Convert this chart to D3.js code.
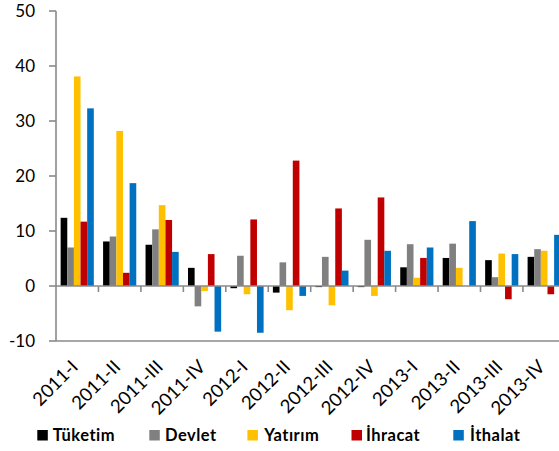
<!DOCTYPE html>
<html><head><meta charset="utf-8">
<script src="https://cdn.jsdelivr.net/npm/d3@7"></script>
<style>body{margin:0;background:#fff}svg{display:block}text{font-family:Lato,"Open Sans",sans-serif}</style>
</head><body>
<svg id="c" width="559" height="451"></svg>
<script>
const categories = ["2011-I","2011-II","2011-III","2011-IV","2012-I","2012-II","2012-III","2012-IV","2013-I","2013-II","2013-III","2013-IV"];
const seriesNames = ["Tüketim","Devlet","Yatırım","İhracat","İthalat"];
const seriesColors = ["#000000","#808080","#FFC000","#C00000","#0070C0"];
const tuketim = [12.4, 8.1, 7.5, 3.3, -0.4, -1.2, -0.2, -0.2, 3.4, 5.1, 4.7, 5.3];
const devlet  = [7.0, 9.0, 10.3, -3.7, 5.5, 4.3, 5.3, 8.4, 7.6, 7.7, 1.6, 6.7];
const yatirim = [38.1, 28.2, 14.7, -0.9, -1.5, -4.4, -3.5, -1.8, 1.5, 3.3, 5.9, 6.4];
const ihracat = [11.7, 2.4, 12.0, 5.8, 12.1, 22.8, 14.1, 16.1, 5.1, 0, -2.4, -1.5];
const ithalat = [32.3, 18.7, 6.2, -8.3, -8.5, -1.8, 2.8, 6.4, 7.0, 11.8, 5.8, 9.3];
const yTicks = [-10, 0, 10, 20, 30, 40, 50];

const seriesValues = [tuketim, devlet, yatirim, ihracat, ithalat];
const svg = d3.select("#c");
const axisColor = "#8a8a8a";

const x0 = d3.scaleBand().domain(categories).range([56, 565.4]).padding(0);
const x1 = d3.scaleBand().domain(seriesNames).range([0, x0.bandwidth()]).paddingInner(0).paddingOuter(0.7);
const y = d3.scaleLinear().domain([-10, 50]).range([341, 11]);

// bars
const g = svg.append("g");
categories.forEach((c, i) => {
  seriesNames.forEach((s, j) => {
    const v = seriesValues[j][i];
    if (v === 0) return;
    g.append("rect")
      .attr("x", x0(c) + x1(s))
      .attr("width", x1.bandwidth())
      .attr("y", y(Math.max(0, v)))
      .attr("height", Math.abs(y(v) - y(0)))
      .attr("fill", seriesColors[j]);
  });
});

// y axis
svg.append("line").attr("x1", 56).attr("x2", 56).attr("y1", y(50)).attr("y2", y(-10))
  .attr("stroke", axisColor).attr("stroke-width", 1.6);
yTicks.forEach(t => {
  svg.append("line").attr("x1", 49).attr("x2", 56).attr("y1", y(t)).attr("y2", y(t))
    .attr("stroke", axisColor).attr("stroke-width", 1.6);
  svg.append("text").attr("x", 35).attr("y", y(t)).attr("dy", "0.36em")
    .attr("text-anchor", "end").attr("font-size", 17).attr("fill", "#000").text(t);
});
// zero line & bottom line
svg.append("line").attr("x1", 56).attr("x2", 559).attr("y1", y(0)).attr("y2", y(0))
  .attr("stroke", axisColor).attr("stroke-width", 1.6);
svg.append("line").attr("x1", 56).attr("x2", 559).attr("y1", y(-10)).attr("y2", y(-10))
  .attr("stroke", axisColor).attr("stroke-width", 1.6);
// category ticks
categories.forEach((c, i) => {
  if (i === 0) return;
  svg.append("line").attr("x1", x0(c)).attr("x2", x0(c)).attr("y1", y(0)).attr("y2", y(0) + 6)
    .attr("stroke", axisColor).attr("stroke-width", 1.6);
});
// category labels
categories.forEach(c => {
  const cx = x0(c) + x0.bandwidth() / 2;
  svg.append("text")
    .attr("transform", `translate(${cx + 2},${368}) rotate(-45)`)
    .attr("text-anchor", "end").attr("font-size", 18.5).attr("fill", "#000").text(c);
});

// legend
const legSq = [37.3, 149.3, 247.4, 351.5, 453.3];
const legTx = [52.7, 165, 264.2, 365.9, 470];
seriesNames.forEach((s, j) => {
  svg.append("rect").attr("x", legSq[j]).attr("y", 430).attr("width", 10.5).attr("height", 10.5).attr("fill", seriesColors[j]);
  svg.append("text").attr("x", legTx[j]).attr("y", 441).attr("font-size", 16.5)
    .attr("font-family", "'Open Sans', sans-serif").attr("letter-spacing", 0.5)
    .attr("font-weight", "bold").attr("fill", "#000").text(s);
});
</script>
</body></html>
